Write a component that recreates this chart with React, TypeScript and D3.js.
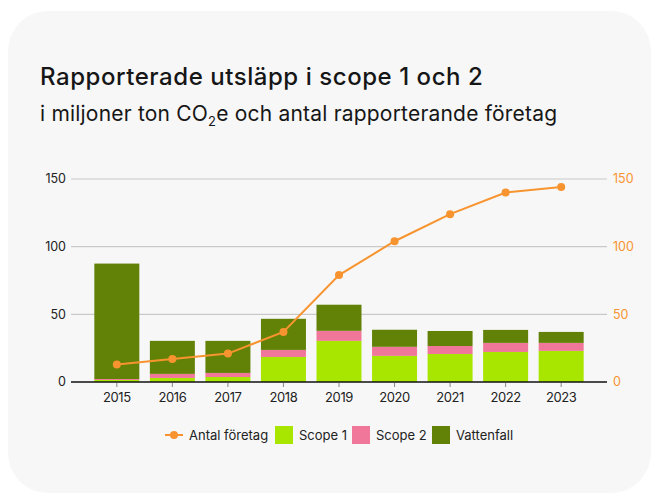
import React from "react";
import * as d3 from "d3";

const years = ["2015", "2016", "2017", "2018", "2019", "2020", "2021", "2022", "2023"];
const scope1 = [1.5, 3.0, 3.7, 18.5, 30.4, 19.3, 20.7, 22.2, 23.0];
const scope2 = [0.7, 3.0, 3.0, 5.2, 7.4, 6.7, 5.9, 6.7, 5.9];
const vattenfall = [85.3, 24.4, 23.7, 23.0, 19.3, 12.6, 11.1, 9.6, 8.1];
const antalForetag = [13, 17, 21, 37, 79, 104, 124, 140, 144];
const leftTicks = [0, 50, 100, 150];
const rightTicks = [0, 50, 100, 150];

const seriesKeys = ["scope1", "scope2", "vattenfall"];
const seriesNames = ["Scope 1", "Scope 2", "Vattenfall"];
const colors: Record<string, string> = {
  scope1: "#a8e600",
  scope2: "#f0779a",
  vattenfall: "#628207",
};
const orange = "#f7942f";
const FONT = "Inter, 'DejaVu Sans', sans-serif";

export default function App() {
  const W = 651;
  const H = 493;
  const x = d3.scaleBand<string>().domain(years).range([71, 607]).paddingInner(0.19).paddingOuter(0.42);
  const yL = d3.scaleLinear().domain([0, 150]).range([382, 179]);
  const yR = d3.scaleLinear().domain([0, 150]).range([382, 179]);

  const rows = years.map((yr, i) => ({ year: yr, scope1: scope1[i], scope2: scope2[i], vattenfall: vattenfall[i] }));
  const stacked = d3.stack<any>().keys(seriesKeys)(rows);

  const line = d3
    .line<number>()
    .x((_, i) => (x(years[i]) as number) + x.bandwidth() / 2)
    .y((d) => yR(d));

  const legendItems = [
    { type: "line", label: "Antal företag", x: 165 },
    { type: "rect", key: "scope1", label: seriesNames[0], x: 275 },
    { type: "rect", key: "scope2", label: seriesNames[1], x: 352 },
    { type: "rect", key: "vattenfall", label: seriesNames[2], x: 432 },
  ];

  return (
    <svg width={W} height={H} style={{ position: "absolute", left: 0, top: 0 }} fontFamily={FONT}>
      <rect x={0} y={0} width={W} height={H} fill="#ffffff" />
      <rect x={8} y={11} width={643} height={482} rx={40} ry={40} fill="#f7f7f7" />
      <text x={40} y={85} fontSize={24} fontWeight={500} fill="#161616" letterSpacing={0.55}>
        Rapporterade utsläpp i scope 1 och 2
      </text>
      <text x={40} y={121} fontSize={21} fill="#161616" letterSpacing={0.2}>
        i miljoner ton CO<tspan fontSize={13} dy={5}>2</tspan>
        <tspan dy={-5}>e och antal rapporterande företag</tspan>
      </text>

      {leftTicks.map((t) => (
        <g key={"g" + t}>
          {t !== 0 && <line x1={71} x2={607} y1={yL(t)} y2={yL(t)} stroke="#c9c9c9" strokeWidth={1.2} />}
          <text x={66} y={yL(t)} dy="0.35em" textAnchor="end" fontSize={12.5} fill="#222">
            {t}
          </text>
        </g>
      ))}
      {rightTicks.map((t) => (
        <text key={"r" + t} x={613} y={yR(t)} dy="0.35em" fontSize={12.5} fill={orange}>
          {t}
        </text>
      ))}

      {stacked.map((s) => (
        <g key={s.key} fill={colors[s.key]}>
          {s.map((d, i) => (
            <rect
              key={i}
              x={x(years[i]) as number}
              width={x.bandwidth()}
              y={yL(d[1])}
              height={yL(d[0]) - yL(d[1])}
            />
          ))}
        </g>
      ))}

      <line x1={71} x2={607} y1={yL(0)} y2={yL(0)} stroke="#111" strokeWidth={1.5} />
      {years.map((yr) => {
        const cx = (x(yr) as number) + x.bandwidth() / 2;
        return (
          <g key={yr}>
            <line x1={cx} x2={cx} y1={383} y2={387} stroke="#888" strokeWidth={1} />
            <text x={cx} y={402} textAnchor="middle" fontSize={13} fill="#222" letterSpacing={-0.4}>
              {yr}
            </text>
          </g>
        );
      })}

      <path d={line(antalForetag) || ""} fill="none" stroke={orange} strokeWidth={2} />
      {antalForetag.map((v, i) => (
        <circle key={i} cx={(x(years[i]) as number) + x.bandwidth() / 2} cy={yR(v)} r={4} fill={orange} />
      ))}

      {legendItems.map((it) => (
        <g key={it.label}>
          {it.type === "line" ? (
            <g>
              <line x1={it.x} x2={it.x + 18} y1={435} y2={435} stroke={orange} strokeWidth={2} />
              <circle cx={it.x + 9} cy={435} r={4} fill={orange} />
            </g>
          ) : (
            <rect x={it.x} y={426} width={18} height={18} fill={colors[it.key as string]} />
          )}
          <text x={it.x + 24} y={435} dy="0.35em" fontSize={13} fill="#222">
            {it.label}
          </text>
        </g>
      ))}
    </svg>
  );
}
